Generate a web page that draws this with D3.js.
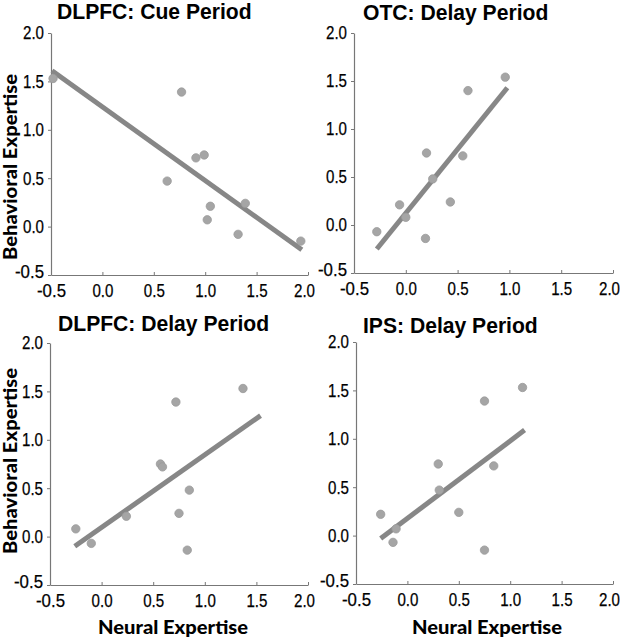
<!DOCTYPE html>
<html>
<head>
<meta charset="utf-8">
<script src="https://cdn.jsdelivr.net/npm/d3@7"></script>
<style>
  html, body { margin: 0; padding: 0; background: #fff; }
  svg { display: block; }
</style>
</head>
<body>
<svg id="chart" width="622" height="640"></svg>
<script>
// ---- Data ----
const panelTitles = ["DLPFC: Cue Period", "OTC: Delay Period", "DLPFC: Delay Period", "IPS: Delay Period"];
const xTicks = [-0.5, 0.0, 0.5, 1.0, 1.5, 2.0];
const yTicks = [-0.5, 0.0, 0.5, 1.0, 1.5, 2.0];
const xLabel = "Neural Expertise";
const yLabel = "Behavioral Expertise";

// Neural expertise (x) and behavioral expertise (y) per panel
const neuralCue = [-0.48, 0.77, 0.91, 0.99, 0.63, 1.05, 1.02, 1.39, 1.32, 1.93];
const behavCue  = [1.53, 1.39, 0.71, 0.74, 0.47, 0.21, 0.07, 0.24, -0.08, -0.15];

const neuralOTC = [-0.28, -0.06, 0.00, 0.20, 0.19, 0.26, 0.43, 0.55, 0.60, 0.96];
const behavOTC  = [-0.07, 0.21, 0.08, 0.75, -0.14, 0.48, 0.24, 0.72, 1.40, 1.54];

const neuralDLd = [-0.25, -0.10, 0.24, 0.57, 0.59, 0.72, 0.75, 0.85, 0.83, 1.37];
const behavDLd  = [0.08, -0.07, 0.21, 0.75, 0.72, 1.39, 0.24, 0.48, -0.14, 1.53];

const neuralIPS = [-0.26, -0.14, -0.11, 0.30, 0.31, 0.50, 0.75, 0.75, 0.84, 1.12];
const behavIPS  = [0.22, -0.07, 0.07, 0.74, 0.47, 0.24, 1.39, -0.15, 0.72, 1.53];

// Fit line endpoints [x0, x1] and [y0, y1]
const fitX = [[-0.49, 1.94], [-0.28, 0.98], [-0.26, 1.54], [-0.26, 1.14]];
const fitY = [[1.61, -0.24], [-0.25, 1.43], [-0.10, 1.25], [-0.03, 1.09]];

// ---- Layout ----
const panels = [
  {x0: 51, x1: 308, yTop: 33, yBot: 275, xs: neuralCue, ys: behavCue, titleX: 57, titleY: 19, showY: true, showX: false, yLabY: 167},
  {x0: 354, x1: 613, yTop: 33, yBot: 273, xs: neuralOTC, ys: behavOTC, titleX: 363, titleY: 20, showY: false, showX: false},
  {x0: 50, x1: 308, yTop: 343, yBot: 585, xs: neuralDLd, ys: behavDLd, titleX: 58, titleY: 331, showY: true, showX: true, yLabY: 461, xLabX: 173},
  {x0: 356, x1: 613, yTop: 342, yBot: 584, xs: neuralIPS, ys: behavIPS, titleX: 363, titleY: 333, showY: false, showX: true, xLabX: 487}
];

const svg = d3.select("#chart");
const tickFont = "'Liberation Sans', Arial, sans-serif";
const titleFont = "'Liberation Sans', Arial, sans-serif";
const labelFont = "Lato, 'Open Sans', sans-serif";
const axisColor = "#777";
const fmt = d => d.toFixed(1);

panels.forEach((p, i) => {
  const x = d3.scaleLinear().domain([-0.5, 2.0]).range([p.x0, p.x1]);
  const y = d3.scaleLinear().domain([-0.5, 2.0]).range([p.yBot, p.yTop]);
  const g = svg.append("g");

  // x axis
  const xa = g.append("g").attr("transform", `translate(0,${p.yBot})`)
    .call(d3.axisBottom(x).tickValues(xTicks).tickFormat(fmt).tickSizeInner(-3).tickSizeOuter(0).tickPadding(9));
  // y axis
  const ya = g.append("g").attr("transform", `translate(${p.x0},0)`)
    .call(d3.axisLeft(y).tickValues(yTicks).tickFormat(fmt).tickSizeInner(3).tickSizeOuter(0).tickPadding(4));

  [xa, ya].forEach(a => {
    a.select(".domain").attr("stroke", axisColor).attr("stroke-width", 1.2);
    a.selectAll(".tick line").attr("stroke", axisColor).attr("stroke-width", 1);
    a.selectAll(".tick text").attr("fill", "#000")
      .attr("stroke", "#000").attr("stroke-width", 0.25)
      .style("font-family", tickFont).style("font-size", "18.5px")
      .attr("textLength", d => d < 0 ? 29 : 21)
      .attr("lengthAdjust", "spacingAndGlyphs");
  });
  xa.selectAll(".tick text").attr("dy", "0.72em");
  // keep the last x tick label inside the page
  xa.selectAll(".tick text").filter(d => d === 2.0).attr("dx", -4);
  // the lowest y label sits slightly above its tick, as in the original
  ya.selectAll(".tick text").filter(d => d === -0.5).attr("y", -3);

  // fit line
  g.append("line")
    .attr("x1", x(fitX[i][0])).attr("y1", y(fitY[i][0]))
    .attr("x2", x(fitX[i][1])).attr("y2", y(fitY[i][1]))
    .attr("stroke", "#878787").attr("stroke-width", 5);

  // points
  g.selectAll("circle.pt").data(p.xs.map((v, k) => [v, p.ys[k]])).enter()
    .append("circle").attr("class", "pt")
    .attr("cx", d => x(d[0])).attr("cy", d => y(d[1]))
    .attr("r", 4.2)
    .attr("fill", "#a5a5a5").attr("stroke", "#9a9a9a").attr("stroke-width", 0.8);

  // title
  g.append("text")
    .attr("x", 0).attr("y", 0)
    .attr("transform", `translate(${p.titleX},${p.titleY}) scale(0.96,1)`)
    .style("font-family", titleFont).style("font-size", "22px").style("font-weight", "bold")
    .attr("fill", "#000")
    .text(panelTitles[i]);

  if (p.showY) {
    g.append("text")
      .attr("transform", `translate(17,${p.yLabY}) rotate(-90)`)
      .attr("text-anchor", "middle")
      .style("font-family", labelFont).style("font-size", "19px").style("font-weight", 900)
      .attr("textLength", 186).attr("lengthAdjust", "spacingAndGlyphs")
      .attr("fill", "#000")
      .text(yLabel);
  }
  if (p.showX) {
    g.append("text")
      .attr("x", p.xLabX).attr("y", 634)
      .attr("text-anchor", "middle")
      .style("font-family", labelFont).style("font-size", "19px").style("font-weight", 900)
      .attr("textLength", 150).attr("lengthAdjust", "spacingAndGlyphs")
      .attr("fill", "#000")
      .text(xLabel);
  }
});
</script>
</body>
</html>
